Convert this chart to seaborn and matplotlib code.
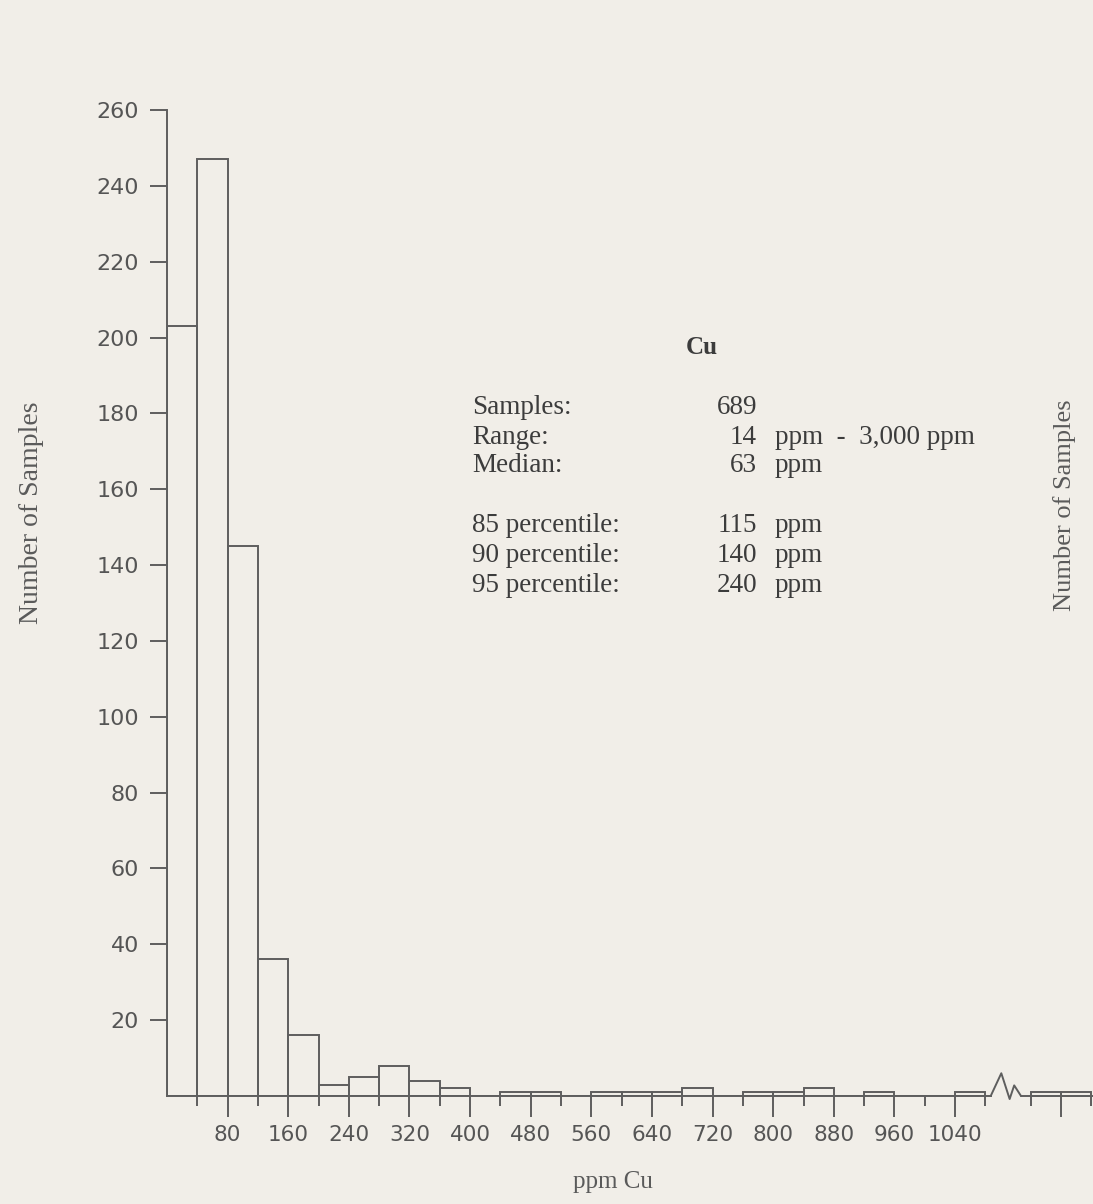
import numpy as np
import matplotlib
matplotlib.use("Agg")
import matplotlib.pyplot as plt
from matplotlib.ticker import FixedLocator, FixedFormatter
import seaborn as sns

# ---------------- data ----------------
BIN_WIDTH = 40
bin_left = [0, 40, 80, 120, 160, 200, 240, 280, 320, 360, 400, 440, 480, 520,
            560, 600, 640, 680, 720, 760, 800, 840, 880, 920, 960, 1000, 1040]
counts = [203, 247, 145, 36, 16, 3, 5, 8, 4, 2, 0, 1, 1, 0,
          1, 1, 1, 2, 0, 1, 1, 2, 0, 1, 0, 0, 1]
# bins shown after the axis break (axis units)
tail_left = [1140, 1180]
tail_counts = [1, 1]

x_tick_major = [80, 160, 240, 320, 400, 480, 560, 640, 720, 800, 880, 960, 1040, 1180]
x_tick_labels = ["80", "160", "240", "320", "400", "480", "560", "640", "720",
                 "800", "880", "960", "1040", ""]
x_tick_minor = [40, 120, 200, 280, 360, 440, 520, 600, 680, 760, 840, 920, 1000, 1080, 1140, 1220]
y_ticks = [20, 40, 60, 80, 100, 120, 140, 160, 180, 200, 220, 240, 260]

title = "Cu"
stat_labels = ["Samples:", "Range:", "Median:", "85 percentile:", "90 percentile:", "95 percentile:"]
stat_values = ["689", "14", "63", "115", "140", "240"]
stat_units = ["", "ppm  -  3,000 ppm", "ppm", "ppm", "ppm", "ppm"]

# ---------------- style ----------------
BG = "#F1EEE8"
LINE = "#5e5e5e"
TXT = "#3c3c3c"
LW = 1.4
W, H = 1093, 1204

sns.set_style("ticks")
plt.rcParams["font.family"] = ["DejaVu Sans"]

fig = plt.figure(figsize=(W / 100, H / 100), dpi=100, facecolor=BG)
ax = fig.add_axes([167 / W, 1 - 1096 / H, 1 - 167 / W, (1096 - 110) / H])
ax.set_facecolor(BG)

edges = list(bin_left) + [bin_left[-1] + BIN_WIDTH]
centers = [b + BIN_WIDTH / 2 for b in bin_left]
sns.histplot(x=centers, weights=counts, bins=edges, fill=False, color=LINE,
             linewidth=LW, ax=ax)
tail_edges = list(tail_left) + [tail_left[-1] + BIN_WIDTH]
tail_centers = [b + BIN_WIDTH / 2 for b in tail_left]
sns.histplot(x=tail_centers, weights=tail_counts, bins=tail_edges, fill=False,
             color=LINE, linewidth=LW, ax=ax, clip_on=False)

XMAX = 1222
ax.set_xlim(0, XMAX)
ax.set_ylim(0, 260)

# axis break
BREAK_START, BREAK_END = 1087, 1127
for s in ["top", "right"]:
    ax.spines[s].set_visible(False)
ax.spines["left"].set_color(LINE)
ax.spines["left"].set_linewidth(LW)
ax.spines["bottom"].set_color(LINE)
ax.spines["bottom"].set_linewidth(LW)
ax.spines["bottom"].set_bounds(0, BREAK_START)
ax.plot([BREAK_START, 1101, 1112, 1118, BREAK_END], [0, 6, -0.8, 2.8, 0],
        color=LINE, lw=LW, clip_on=False)
ax.plot([BREAK_END, XMAX], [0, 0], color=LINE, lw=LW, clip_on=False)

ax.xaxis.set_major_locator(FixedLocator(x_tick_major))
ax.xaxis.set_major_formatter(FixedFormatter(x_tick_labels))
ax.xaxis.set_minor_locator(FixedLocator(x_tick_minor))
ax.set_yticks(y_ticks)
ax.set_yticklabels([str(v) for v in y_ticks])
ax.tick_params(axis="x", which="major", direction="out", length=15, width=LW,
               color=LINE, labelsize=15.5, labelcolor="#555555", pad=6)
ax.tick_params(axis="x", which="minor", direction="out", length=7.5, width=LW,
               color=LINE)
ax.tick_params(axis="y", direction="out", length=12, width=LW, color=LINE,
               labelsize=16, labelcolor="#555555", pad=8)
ax.set_xlabel("")
ax.set_ylabel("")

serif = ["Liberation Serif", "DejaVu Serif"]
fig.text(32 / W, 1 - 513 / H, "Number of Samples", rotation=90, ha="center",
         va="center", family=serif, fontsize=20, color="#5a5a5a")
fig.text(1065 / W, 1 - 505 / H, "Number of Samples", rotation=90, ha="center",
         va="center", family=serif, fontsize=19, color="#5a5a5a")
fig.text(613 / W, 1 - 1182 / H, "ppm Cu", ha="center", va="center",
         family=serif, fontsize=18, color="#5a5a5a")

fig.text(702 / W, 1 - 347 / H, title, ha="center", va="center", family=serif,
         fontsize=18, fontweight="bold", color=TXT)
row_y = [407, 437, 466, 525, 555, 585]
for yy, lab, val, unit in zip(row_y, stat_labels, stat_values, stat_units):
    fig.text(472 / W, 1 - yy / H, lab, ha="left", va="center", family=serif,
             fontsize=19.5, color=TXT)
    fig.text(757 / W, 1 - yy / H, val, ha="right", va="center", family=serif,
             fontsize=19.5, color=TXT)
    if unit:
        fig.text(775 / W, 1 - yy / H, unit, ha="left", va="center", family=serif,
                 fontsize=19.5, color=TXT)

fig.savefig("out.png", dpi=100, facecolor=BG)
